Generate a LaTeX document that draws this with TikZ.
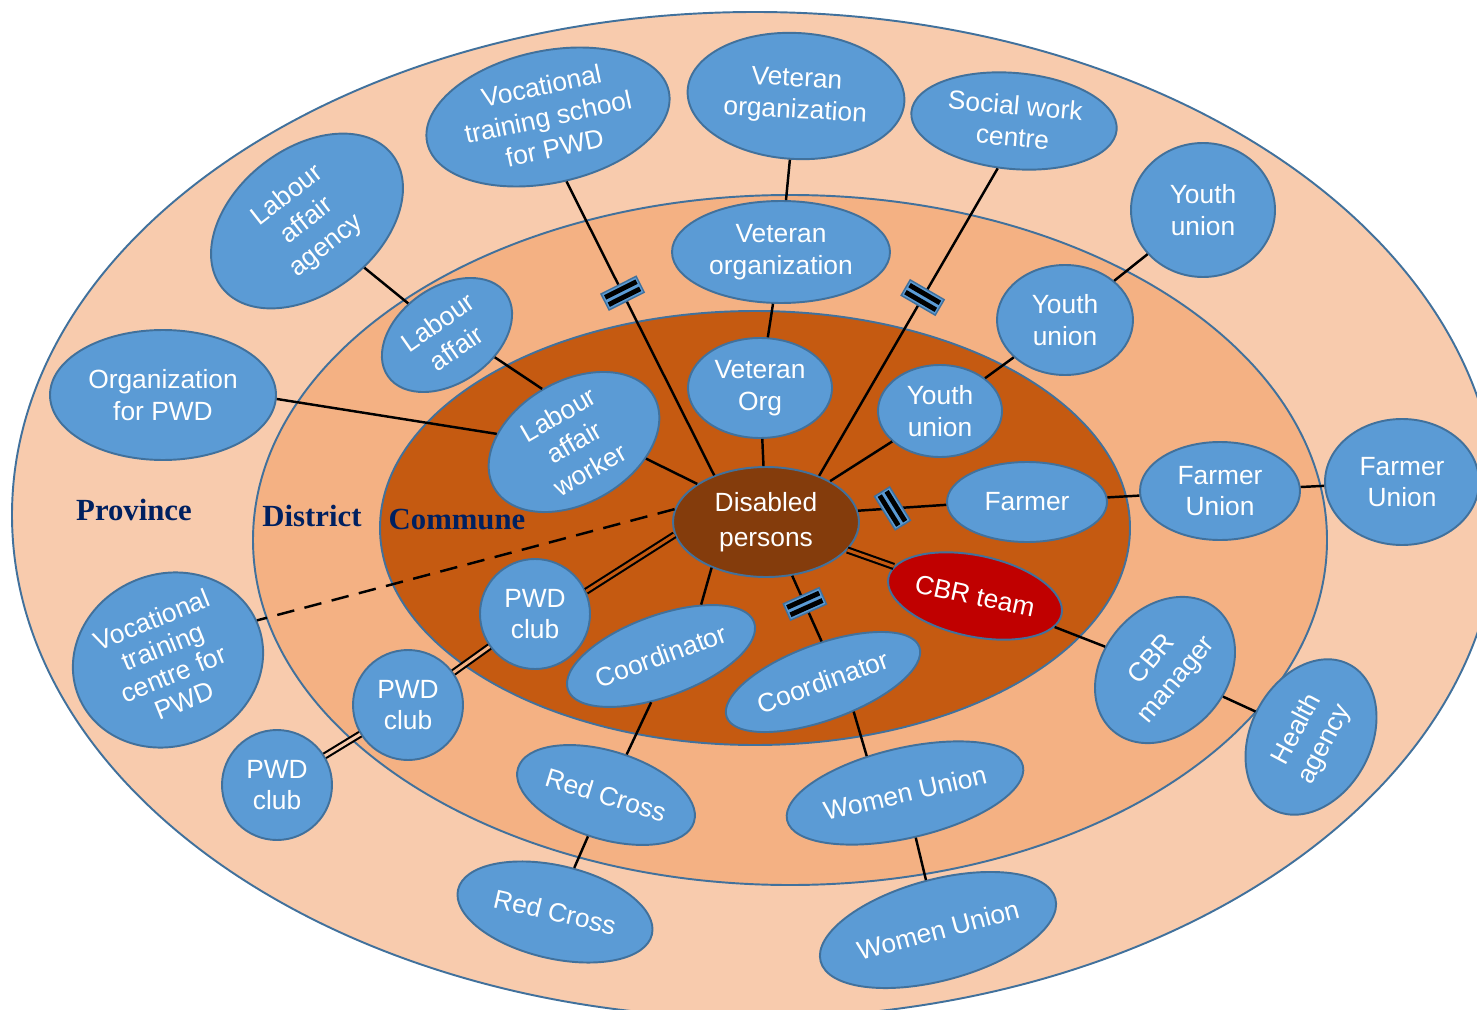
\documentclass[tikz,border=0pt]{standalone}
\usepackage{fontspec}
\setmainfont{Liberation Sans}
\newfontfamily\levelfont{Liberation Serif}
\usetikzlibrary{shapes.geometric}
\definecolor{provfill}{HTML}{F8CBAD}
\definecolor{distfill}{HTML}{F4B183}
\definecolor{commfill}{HTML}{C55A11}
\definecolor{corefill}{HTML}{843C0C}
\definecolor{bubfill}{HTML}{5B9BD5}
\definecolor{bubedge}{HTML}{41719C}
\definecolor{cbrfill}{HTML}{C00000}
\definecolor{levelink}{HTML}{002060}
% two short black bars marking an interrupted link
\newcommand\cutbars{\rule[-10pt]{2.8pt}{20pt}\hspace{1.8pt}\rule[-10pt]{2.8pt}{20pt}}
\begin{document}
\begin{tikzpicture}[x=0.02cm, y=-0.02cm,
  wh/.style 2 args={minimum width=#1*0.02cm, minimum height=#2*0.02cm},
  bub/.style={ellipse, draw=bubedge, fill=bubfill, line width=1.1pt, text=white,
    inner sep=0pt, align=center, font=\fontsize{15}{18}\selectfont},
  ring/.style={draw=bubedge, line width=1.1pt},
  link/.style={draw=black, line width=1.4pt},
  twin/.style={draw=black, line width=1.2pt, double=#1, double distance=1.7pt},
  cut/.style={sloped, rectangle, draw=bubedge, fill=bubfill, line width=0.8pt,
    inner xsep=1.4pt, inner ysep=1.2pt, text=black},
  level/.style={font=\levelfont\bfseries\fontsize{17.5}{20}\selectfont, text=levelink}
]
\useasboundingbox (0,0) rectangle (1477,1010);

% administrative rings
\begin{scope}
  \clip (0,0) rectangle (1477,1010);
  \path[ring, fill=provfill] (755,515) ellipse [x radius=743, y radius=503];
\end{scope}
\path[ring, fill=distfill] (790,540) ellipse [x radius=537, y radius=345];
\path[ring, fill=commfill] (755,528) ellipse [x radius=375, y radius=217];

\node[level] (prov) at (134,510) {Province};
\node[level] (dist) at (312,516) {District};
\node[level] (comm) at (457,520) {Commune};

% centre
\node[bub, wh={186}{110}, fill=corefill, font=\fontsize{15}{20}\selectfont] (dp) at (766,522) {Disabled\\persons};

% commune level
\node[bub, wh={144}{100}] (vetc) at (760,388) {Veteran\\Org};
\node[bub, wh={124}{92}] (youc) at (940,411) {Youth\\union};
\node[bub, wh={184}{122}, rotate=30] (law) at (574,442) {Labour\\affair\\worker};
\node[bub, wh={160}{80}] (farm) at (1027,502) {Farmer};
\node[bub, wh={177}{81}, rotate=-12, fill=cbrfill] (cbrt) at (975,596) {CBR team};
\node[bub, circle, wh={110}{110}] (pwdc) at (535,614) {PWD\\club};
\node[bub, wh={198}{81}, rotate=20] (corl) at (661,656) {Coordinator};
\node[bub, wh={205}{76}, rotate=20] (corr) at (823,682) {Coordinator};

% district level
\node[bub, wh={218}{102}] (vetd) at (781,252) {Veteran\\organization};
\node[bub, wh={136}{110}] (youd) at (1065,320) {Youth\\union};
\node[bub, wh={144}{96}, rotate=35] (lab) at (447,335) {Labour\\affair};
\node[bub, wh={160}{98}] (farmd) at (1220,491) {Farmer\\Union};
\node[bub, circle, wh={110}{110}] (pwdd) at (408,705) {PWD\\club};
\node[bub, wh={184}{88}, rotate=-17] (redd) at (606,795) {Red Cross};
\node[bub, wh={242}{90}, rotate=13] (womd) at (905,793) {Women Union};
\node[bub, wh={160}{124}, rotate=50] (cbrm) at (1165,670) {CBR\\manager};

% province level
\node[bub, wh={247}{132}, rotate=12] (vocs) at (548,117) {Vocational\\training school\\for PWD};
\node[bub, wh={217}{126}, rotate=-3] (veto) at (796,96) {Veteran\\organization};
\node[bub, wh={206}{96}, rotate=-5] (soc) at (1014,121) {Social work\\centre};
\node[bub, wh={144}{134}] (youo) at (1203,210) {Youth\\union};
\node[bub, wh={216}{144}, rotate=38] (laba) at (307,221) {Labour\\affair\\agency};
\node[bub, wh={226}{130}] (orgp) at (163,395) {Organization\\for PWD};
\node[bub, wh={154}{126}] (farmo) at (1402,482) {Farmer\\Union};
\node[bub, wh={193}{172}, rotate=22, font=\fontsize{15}{16.5}\selectfont] (vocc) at (168,660) {Vocational\\training\\centre for\\PWD};
\node[bub, circle, wh={110}{110}] (pwdo) at (277,785) {PWD\\club};
\node[bub, wh={199}{93}, rotate=-13] (redo) at (555,912) {Red Cross};
\node[bub, wh={243}{101}, rotate=15] (womo) at (938,930) {Women Union};
\node[bub, wh={164}{120}, rotate=62] (hlth) at (1311,737) {Health\\agency};

% links
\draw[link] (dp.138) -- node[cut, pos=0.62] {\cutbars} (vocs.-86);
\draw[link] (dp.41) -- node[cut, pos=0.58] {\cutbars} (soc.-104);
\draw[link] (dp) -- (vetc);
\draw[link] (vetc) -- (vetd);
\draw[link] (vetd) -- (veto);
\draw[link] (dp) -- (youc);
\draw[link] (youc) -- (youd);
\draw[link] (youd) -- (youo);
\draw[link] (dp.7) -- node[cut, pos=0.39, rotate=28] {\cutbars} (farm.182);
\draw[link] (farm) -- (farmd);
\draw[link] (farmd) -- (farmo);
\draw[twin=commfill] (dp.-19) -- (cbrt.172);
\draw[link] (cbrt) -- (cbrm);
\draw[link] (cbrm) -- (hlth);
\draw[link] (dp.-64) -- node[cut, pos=0.43] {\cutbars} (corr.72);
\draw[link] (corr.-64) -- (womd.123);
\draw[link] (womd) -- (womo);
\draw[link] (dp.-140) -- (corl.32);
\draw[link] (corl.-122) -- (redd.80);
\draw[link] (redd) -- (redo);
\draw[twin=commfill] (dp.188) -- (pwdc.24);
\draw[twin=distfill] (pwdc) -- (pwdd);
\draw[twin=provfill] (pwdd) -- (pwdo);
\draw[link] (dp.151) -- (law.-43);
\draw[link] (law.91) -- (lab.-60);
\draw[link] (lab) -- (laba);
\draw[link] (law.144) -- (orgp.-2);
\draw[link, dash pattern=on 10pt off 6pt] (dp.172) -- (vocc.2);
\end{tikzpicture}
\end{document}
